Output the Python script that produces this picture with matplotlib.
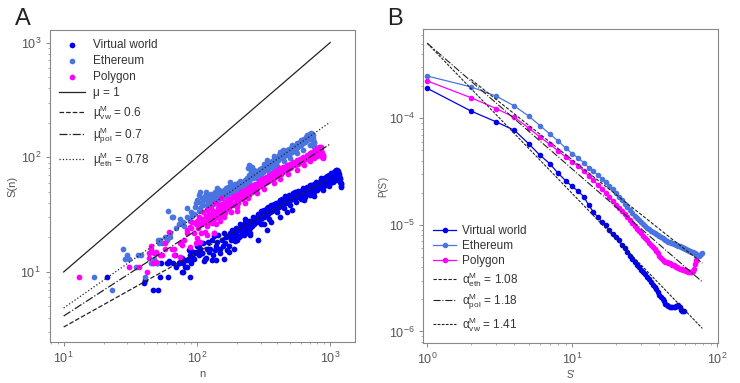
import numpy as np
import matplotlib.pyplot as plt

plt.rcParams['font.family'] = ['Liberation Sans', 'DejaVu Sans']
plt.rcParams['mathtext.fontset'] = 'custom'
plt.rcParams['mathtext.rm'] = 'Liberation Sans'
plt.rcParams['mathtext.it'] = 'Liberation Sans:italic'

# ---- panel A: S(n) scatter, (n, S) pairs
vw_pts = [(21, 9), (40, 8), (41, 8.5), (47, 7), (51, 7), (53, 9), (61, 9), (89, 9), (54, 12), (50, 12),
          (66, 12), (73, 12), (79, 12), (78, 10), (62, 12.5), (70, 11), (84, 11), (87, 13), (90, 12), (68, 14),
          (60, 12), (77, 10), (82, 11), (73, 12), (77, 13.2), (84, 12.7), (87, 15.6), (94, 15), (103, 16.6),
          (88, 15.9), (103, 14.8), (113, 12.5), (61, 11.9),
          (173, 15), (289, 19), (334, 23), (251, 21), (212, 20.4), (190, 16), (160, 13), (140, 12.7), (116, 13.2),
          (130, 12.7), (97, 14.5), (109, 14.5), (89, 14), (80, 12.7), (75, 12.3), (94, 13.2),
          (95, 13), (98, 15), (100, 17), (103, 14), (106, 16), (109, 14.5), (112, 18), (115, 13), (118, 16),
          (121, 18.4), (124, 15), (126, 16), (129, 19), (132, 14), (134, 20.4), (137, 15.6), (140, 17),
          (142, 18.4), (145, 21), (148, 16), (150, 14.5), (153, 19), (156, 17), (159, 22), (162, 18), (165, 20),
          (168, 15.6), (170, 20.4), (173, 17), (176, 22), (180, 19), (183, 23), (186, 20), (190, 22),
          (193, 18.5), (196, 24), (200, 21), (204, 23), (208, 20), (212, 26), (216, 22), (220, 24), (224, 21),
          (228, 27), (232, 23), (236, 25), (240, 22), (245, 28), (250, 24), (255, 27), (260, 25), (265, 30),
          (270, 26), (275, 29), (280, 27), (286, 32), (292, 28), (298, 31), (304, 29), (310, 34), (316, 30),
          (322, 33), (328, 31), (334, 36), (340, 32), (347, 35), (354, 33), (361, 38), (368, 34), (375, 37),
          (382, 35), (390, 40), (398, 36), (406, 39), (414, 37), (422, 42), (430, 38), (438, 41), (446, 39),
          (455, 44), (464, 40), (473, 43), (482, 41), (491, 47), (500, 42), (510, 45), (520, 43), (530, 49),
          (540, 44), (550, 47), (560, 45), (572, 51), (584, 46), (596, 49), (608, 47), (620, 53), (632, 48),
          (644, 51), (656, 49), (668, 55), (680, 51), (692, 54), (704, 52), (716, 57), (728, 53), (740, 56),
          (752, 54), (764, 59), (776, 55), (790, 58), (804, 56), (818, 61), (832, 57), (846, 62), (860, 59),
          (874, 64), (888, 60), (902, 66), (916, 62), (930, 65), (944, 63), (958, 68), (972, 64), (986, 67),
          (1000, 65), (1015, 70), (1030, 66), (1045, 72), (1060, 68), (1075, 75), (1090, 70), (1105, 77),
          (1120, 73), (1135, 76), (1150, 74), (1165, 72), (1178, 66), (1188, 61), (1198, 58), (1208, 56),
          (1215, 55),
          (200, 19), (250, 22), (300, 26), (350, 29), (400, 33), (450, 36), (500, 38), (550, 41), (600, 43),
          (650, 45), (700, 47), (750, 50), (800, 52), (850, 54), (900, 56), (950, 58), (1000, 59.5),
          (1050, 61), (1100, 63),
          (230, 29), (300, 34), (380, 39), (460, 46), (540, 50), (620, 54), (700, 57), (780, 61), (860, 66),
          (940, 69), (1020, 73), (1080, 76), (1120, 78),
          (210, 24), (226, 25), (244, 26), (262, 29), (282, 30), (300, 31), (320, 35), (344, 37), (366, 36),
          (388, 38), (410, 41), (434, 43), (458, 42), (480, 45), (505, 47), (528, 46), (552, 50), (576, 48),
          (600, 51), (624, 50), (650, 53), (676, 54), (700, 55), (726, 55), (750, 58), (776, 58), (800, 60),
          (826, 59), (852, 63), (878, 62), (904, 64), (930, 67), (956, 66), (982, 70), (1010, 68), (1040, 69),
          (1068, 72), (1096, 74), (1126, 70), (1160, 69), (1185, 64), (1200, 60),
          (320, 26), (420, 30), (520, 35), (640, 42), (760, 46), (880, 52), (980, 56), (360, 27), (470, 33)]

eth_pts = [(17, 9), (23, 7), (28, 16), (29, 13), (30, 14), (31, 13), (35, 11), (36, 14), (38, 14), (41, 9),
           (45, 12), (47, 11.9), (48, 13), (49, 14.5), (50, 12), (52, 18), (51, 19), (53, 19), (55, 18), (58, 20),
           (60, 19), (61, 34), (63, 22), (63, 20), (65, 30), (66, 30), (70, 24), (73, 26), (75, 29), (78, 27),
           (80, 25), (84, 30), (84, 36), (88, 28), (90, 33), (92, 31), (95, 32), (97, 37), (98, 40),
           (100, 42), (103, 47), (106, 50), (106, 36), (108, 40), (110, 44), (112, 38), (114, 46), (116, 50),
           (118, 42), (119, 38), (121, 45), (123, 40), (126, 45), (128, 48), (130, 42), (132, 39), (135, 46),
           (137, 48), (139, 43), (142, 54), (144, 47), (145, 42), (148, 45), (150, 50), (153, 44), (156, 48),
           (158, 45), (160, 52), (163, 47), (166, 50), (169, 46), (172, 55), (175, 51), (178, 61), (180, 49),
           (183, 53), (186, 56), (189, 51), (192, 58), (195, 54), (198, 52), (202, 57), (205, 60), (208, 55),
           (212, 62), (215, 54), (218, 58), (222, 61), (226, 57), (230, 63), (234, 59), (238, 66), (241, 80),
           (244, 86), (247, 70), (250, 64), (254, 68), (259, 83), (262, 66), (266, 72), (270, 69), (275, 74),
           (280, 66), (285, 73), (290, 77), (295, 71), (300, 76), (306, 80), (312, 74), (318, 82), (324, 78),
           (330, 85), (334, 95), (338, 80), (344, 87), (350, 83), (356, 90), (362, 86), (368, 93), (373, 81),
           (378, 96), (384, 90), (390, 98), (396, 92), (402, 100), (408, 95), (415, 104), (422, 112),
           (428, 98), (435, 106), (442, 110), (450, 102), (458, 112), (466, 108), (474, 115), (482, 104),
           (490, 118), (500, 110), (508, 120), (516, 112), (525, 122), (534, 115), (543, 126), (552, 118),
           (560, 133), (568, 122), (577, 130), (586, 125), (595, 136), (605, 128), (615, 140), (625, 132),
           (635, 145), (645, 136), (655, 150), (665, 157), (675, 140), (685, 152), (695, 145), (705, 158),
           (715, 150), (725, 160), (735, 153), (742, 148), (748, 140), (752, 132), (756, 126), (760, 122),
           (210, 54), (250, 58), (300, 68), (350, 74), (400, 84), (450, 92), (500, 98), (560, 108), (630, 116),
           (700, 128), (740, 135), (270, 78), (320, 88), (380, 102), (440, 116), (520, 128), (600, 142),
           (680, 156), (720, 162),
           (104, 34), (112, 42), (120, 48), (128, 41), (136, 50), (146, 52), (155, 46), (165, 54), (176, 56),
           (188, 57), (200, 54), (214, 59), (228, 56), (240, 62), (256, 74), (268, 76), (282, 71), (296, 79),
           (310, 76), (326, 84), (342, 90), (358, 84), (376, 90), (394, 97), (412, 98), (432, 103), (452, 108),
           (472, 110), (494, 114), (516, 118), (538, 120), (560, 124), (584, 128), (606, 134), (628, 138),
           (650, 142), (672, 148), (694, 150), (716, 155), (738, 156), (755, 135)]

pol_pts = [(13, 9), (31, 11), (37, 11.1), (42, 10), (44, 13.2), (45, 16), (45, 17), (44, 14.5), (47, 11.9),
           (48, 14.6), (49, 15), (49, 12.3), (53, 14), (55, 14), (58, 16), (58, 18), (62, 22.5), (65, 16),
           (67, 16), (67, 14), (75, 13.6), (75, 17.8), (77, 17.2), (80, 19), (84, 23.3), (84, 21.8), (89, 24.8),
           (89, 16.6), (98, 17.8), (100, 19.7), (106, 18.4), (109, 26), (115, 22.5), (123, 28), (130, 26.6),
           (134, 21.8), (134, 32.5), (137, 40), (146, 30), (159, 37), (163, 32.5),
           (90, 24), (92, 27), (95, 22), (98, 26), (100, 28), (102, 24), (104, 30), (106, 26), (108, 22),
           (110, 29), (112, 33), (114, 27), (116, 31), (118, 25), (120, 35), (122, 29), (124, 32), (126, 27),
           (128, 36), (130, 31), (133, 34), (135, 29), (137, 40), (139, 33), (142, 30), (144, 36), (146, 38),
           (148, 32), (150, 35), (153, 39), (156, 34), (159, 37), (162, 41), (165, 35), (168, 38), (171, 43),
           (174, 36), (178, 42), (181, 39), (184, 44), (188, 38), (192, 45), (196, 41), (200, 47), (204, 40),
           (208, 44), (212, 49), (216, 43), (220, 47), (225, 51), (230, 45), (235, 49), (240, 54), (245, 47),
           (250, 52), (255, 56), (260, 50), (266, 55), (272, 59), (278, 53), (284, 58), (290, 62), (296, 56),
           (302, 60), (308, 65), (314, 58), (320, 63), (327, 67), (334, 61), (341, 66), (348, 70), (355, 63),
           (362, 69), (370, 73), (378, 66), (386, 72), (394, 76), (402, 70), (410, 75), (418, 80), (426, 72),
           (435, 78), (444, 82), (453, 76), (462, 81), (471, 85), (480, 79), (490, 84), (500, 88), (510, 82),
           (520, 87), (530, 91), (540, 85), (550, 90), (560, 95), (570, 88), (580, 93), (592, 97), (604, 91),
           (616, 96), (628, 101), (640, 94), (652, 99), (664, 104), (676, 97), (688, 102), (700, 108),
           (712, 100), (724, 106), (736, 112), (748, 104), (760, 110), (772, 116), (784, 108), (796, 114),
           (808, 120), (818, 124), (828, 112), (838, 118), (848, 122), (858, 114), (866, 106), (872, 100),
           (878, 98), (884, 101), (890, 104),
           (150, 28), (200, 37), (240, 44), (280, 49), (320, 53), (380, 60), (420, 64), (480, 72), (560, 78),
           (640, 86), (700, 92), (750, 98), (800, 103), (840, 106),
           (120, 21), (134, 22), (140, 26), (160, 30), (180, 33), (200, 34), (230, 40),
           (152, 44), (170, 39), (186, 46), (202, 42), (218, 51), (236, 47), (252, 55), (268, 52), (286, 55),
           (304, 62), (324, 60), (344, 64), (366, 67), (388, 70), (410, 68), (432, 75), (456, 79), (478, 82),
           (502, 80), (526, 85), (550, 87), (575, 92), (600, 94), (625, 97), (650, 96), (675, 101), (700, 104),
           (725, 104), (750, 110), (775, 112), (800, 117), (825, 118), (850, 116), (862, 110), (876, 103)]

# reference lines in A: value at n=10 and slope as drawn
line_n = [10, 1000]
mu_labels = ['μ = 1', 'μ$^{\\mathrm{M}}_{\\mathrm{vw}}$ = 0.6',
             'μ$^{\\mathrm{M}}_{\\mathrm{pol}}$ = 0.7', 'μ$^{\\mathrm{M}}_{\\mathrm{eth}}$ = 0.78']
mu_start = [10, 3.31, 4.13, 4.85]
mu_slope = [1.0, 0.65, 0.75, 0.81]
mu_styles = ['-', '--', '-.', ':']

# ---- panel B: P(S') per integer S'
vw_P = [1.91e-4, 1.17e-4, 9.23e-5, 7.71e-5, 5.78e-5, 4.50e-5, 3.75e-5, 3.05e-5, 2.60e-5, 2.29e-5,
        2.07e-5, 1.84e-5, 1.53e-5, 1.32e-5, 1.18e-5, 1.07e-5, 9.89e-6, 8.91e-6, 8.13e-6, 7.62e-6,
        7.16e-6, 6.53e-6, 6.10e-6, 5.56e-6, 5.13e-6, 4.79e-6, 4.47e-6, 4.22e-6, 4.03e-6, 3.80e-6,
        3.59e-6, 3.43e-6, 3.24e-6, 3.08e-6, 2.92e-6, 2.75e-6, 2.63e-6, 2.48e-6, 2.32e-6, 2.19e-6,
        2.09e-6, 2.00e-6, 1.91e-6, 1.82e-6, 1.76e-6, 1.72e-6, 1.71e-6, 1.70e-6, 1.70e-6, 1.71e-6,
        1.71e-6, 1.73e-6, 1.75e-6, 1.76e-6, 1.70e-6, 1.58e-6, 1.57e-6, 1.55e-6, 1.55e-6]
eth_P = [2.49e-4, 1.97e-4, 1.61e-4, 1.30e-4, 1.05e-4, 8.53e-5, 7.13e-5, 6.12e-5, 5.26e-5, 4.66e-5,
         4.25e-5, 3.84e-5, 3.44e-5, 3.20e-5, 2.92e-5, 2.69e-5, 2.51e-5, 2.33e-5, 2.18e-5, 2.00e-5,
         1.84e-5, 1.70e-5, 1.58e-5, 1.47e-5, 1.37e-5, 1.29e-5, 1.22e-5, 1.15e-5, 1.10e-5, 1.06e-5,
         1.02e-5, 9.77e-6, 9.44e-6, 9.12e-6, 8.81e-6, 8.61e-6, 8.41e-6, 8.22e-6, 8.04e-6, 7.85e-6,
         7.67e-6, 7.50e-6, 7.33e-6, 7.19e-6, 7.08e-6, 6.97e-6, 6.87e-6, 6.79e-6, 6.73e-6, 6.67e-6,
         6.61e-6, 6.53e-6, 6.46e-6, 6.37e-6, 6.28e-6, 6.21e-6, 6.14e-6, 6.07e-6, 6.01e-6, 5.96e-6,
         5.90e-6, 5.83e-6, 5.78e-6, 5.73e-6, 5.68e-6, 5.62e-6, 5.57e-6, 5.52e-6, 5.47e-6, 5.40e-6,
         5.32e-6, 5.25e-6, 5.19e-6, 5.15e-6, 5.13e-6, 5.19e-6, 5.31e-6, 5.47e-6]
pol_P = [2.24e-4, 1.56e-4, 1.23e-4, 1.02e-4, 8.11e-5, 6.67e-5, 5.70e-5, 4.93e-5, 4.34e-5, 3.89e-5,
         3.56e-5, 3.20e-5, 2.87e-5, 2.62e-5, 2.37e-5, 2.16e-5, 1.97e-5, 1.82e-5, 1.67e-5, 1.54e-5,
         1.43e-5, 1.34e-5, 1.26e-5, 1.19e-5, 1.12e-5, 1.05e-5, 9.82e-6, 9.23e-6, 8.71e-6, 8.32e-6,
         7.94e-6, 7.55e-6, 7.16e-6, 6.79e-6, 6.46e-6, 6.17e-6, 5.92e-6, 5.65e-6, 5.40e-6, 5.13e-6,
         4.88e-6, 4.70e-6, 4.59e-6, 4.52e-6, 4.47e-6, 4.41e-6, 4.35e-6, 4.29e-6, 4.23e-6, 4.17e-6,
         4.11e-6, 4.06e-6, 4.00e-6, 3.94e-6, 3.89e-6, 3.85e-6, 3.82e-6, 3.79e-6, 3.77e-6, 3.74e-6,
         3.71e-6, 3.66e-6, 3.63e-6, 3.61e-6, 3.61e-6, 3.62e-6, 3.63e-6, 3.72e-6, 3.87e-6, 4.27e-6,
         4.57e-6, 4.68e-6]

# power-law guides in B: (first S', last S'), value at S'=1, exponent
alpha_labels = ['α$^{\\mathrm{M}}_{\\mathrm{eth}}$ = 1.08', 'α$^{\\mathrm{M}}_{\\mathrm{pol}}$ = 1.18',
                'α$^{\\mathrm{M}}_{\\mathrm{vw}}$ = 1.41']
alpha_range = [(2, 79), (1, 79), (1, 79)]
alpha_c = [4.9e-4, 5.06e-4, 5.06e-4]
alpha_exp = [1.08, 1.18, 1.41]
alpha_styles = [(0, (3, 1.5)), '-.', (0, (2.5, 1.2))]

names = ['Virtual world', 'Ethereum', 'Polygon']
colors = ['#0000ee', '#4a74e0', '#ff00ff']

grey = '#555555'
fig = plt.figure(figsize=(7.4, 3.83), dpi=100)
axA = fig.add_axes([0.0676, 0.107, 0.4124, 0.815])
axB = fig.add_axes([0.572, 0.104, 0.398, 0.820])

for pts, name, c in zip([vw_pts, eth_pts, pol_pts], names, colors):
    arr = np.array(pts, dtype=float)
    axA.scatter(arr[:, 0], arr[:, 1], s=17, color=c, linewidths=0, label=name, zorder=2)

for lab, s0, k, ls in zip(mu_labels, mu_start, mu_slope, mu_styles):
    nn = np.geomspace(line_n[0], line_n[1], 50)
    axA.plot(nn, s0 * (nn / line_n[0]) ** k, ls, color='#222222', lw=0.9, label=lab, zorder=3)

axA.set_xscale('log')
axA.set_yscale('log')
axA.set_xlim(7.9, 1540)
axA.set_ylim(2.45, 1290)
axA.set_xlabel('n', color=grey, fontsize=8)
axA.set_ylabel('S(n)', color=grey, fontsize=8)
axA.xaxis.set_label_coords(0.5, -0.085)
axA.yaxis.set_label_coords(-0.105, 0.5)
axA.legend(loc='upper left', frameon=False, fontsize=8.5, handlelength=2.2,
           labelspacing=0.33, borderaxespad=0.4, handletextpad=0.6, labelcolor='#333333')

for P, name, c in zip([vw_P, eth_P, pol_P], names, colors):
    s = np.arange(1, len(P) + 1)
    axB.plot(s, P, '-o', color=c, ms=3.0, lw=0.9, label=name, zorder=2)

for lab, (a, b), c0, e, ls in zip(alpha_labels, alpha_range, alpha_c, alpha_exp, alpha_styles):
    ss = np.geomspace(a, b, 50)
    axB.plot(ss, c0 * ss ** (-e), linestyle=ls, color='#222222', lw=0.8, label=lab, zorder=3)

axB.set_xscale('log')
axB.set_yscale('log')
axB.set_xlim(0.94, 101)
axB.set_ylim(10 ** -6.11, 10 ** -3.164)
axB.set_xlabel("S'", color=grey, fontsize=7)
axB.set_ylabel("P(S')", color=grey, fontsize=7)
axB.xaxis.set_label_coords(0.5, -0.085)
axB.yaxis.set_label_coords(-0.118, 0.5)
axB.legend(loc='lower left', frameon=False, fontsize=8.5, handlelength=2.0,
           labelspacing=0.25, borderaxespad=0.4, handletextpad=0.5, labelcolor='#333333')

for ax in (axA, axB):
    for sp in ax.spines.values():
        sp.set_color('#888888')
        sp.set_linewidth(0.8)
    ax.tick_params(which='major', colors='#888888', labelcolor=grey, labelsize=9, length=3, width=0.7)
    ax.tick_params(which='minor', colors='#888888', length=1.5, width=0.5)

fig.text(0.020, 0.935, 'A', fontsize=17, color='#222222')
fig.text(0.523, 0.935, 'B', fontsize=17, color='#222222')

fig.savefig('out.png', dpi=100)
